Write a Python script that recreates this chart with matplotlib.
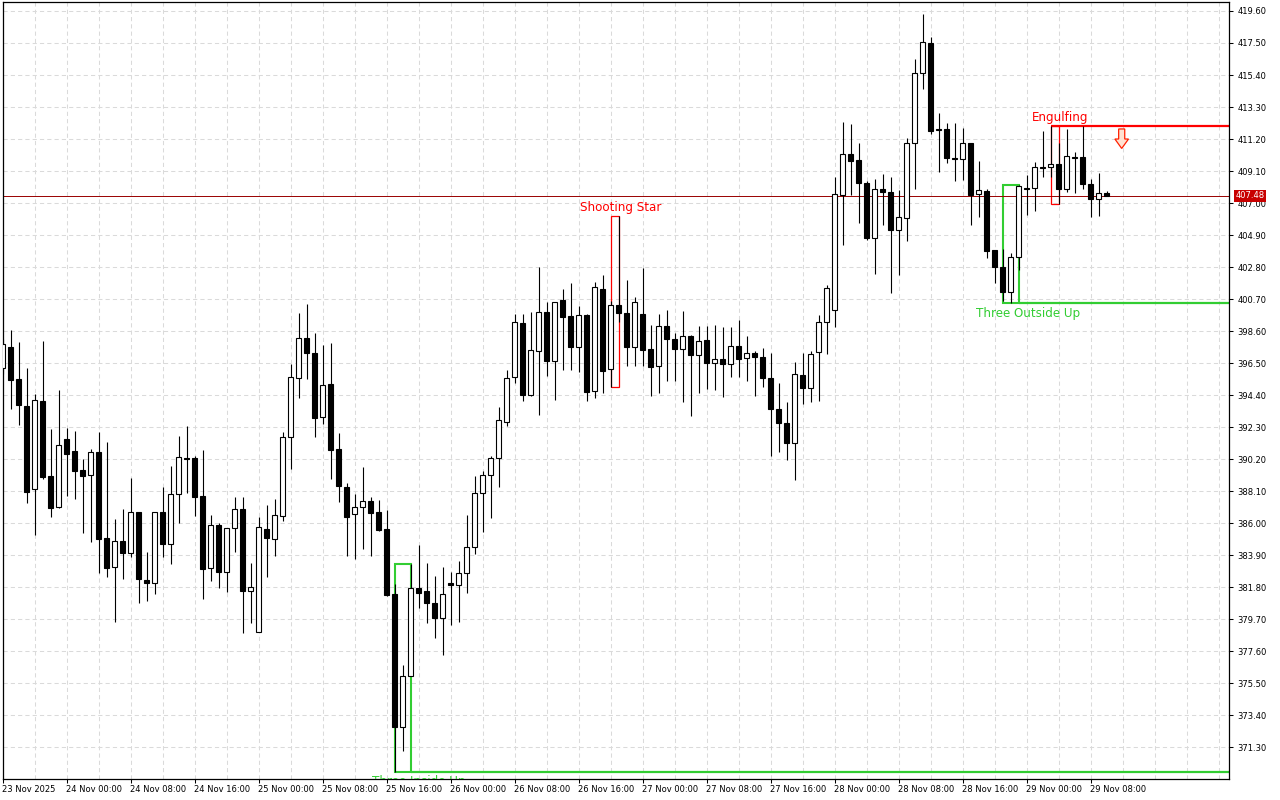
import numpy as np
import pandas as pd
import matplotlib
matplotlib.use('Agg')
import matplotlib.pyplot as plt
from matplotlib.patches import Rectangle, Polygon

# Годинні свічки, 23 Nov 2025 16:00 ... 29 Nov 2025 10:00
start_time = '2025-11-23 16:00'

opens = [396.15, 397.53, 395.43, 393.68, 388.22, 394.01, 389.09, 387.03, 391.52, 390.73,
         389.46, 389.13, 390.64, 385.00, 383.10, 384.80, 384.02, 386.71, 382.24, 382.05,
         386.71, 384.61, 387.89, 390.27, 390.27, 387.78, 383.03, 385.85, 382.81, 385.66,
         386.90, 381.56, 378.83, 385.59, 384.93, 386.48, 391.63, 395.50, 398.12, 397.14,
         392.93, 395.10, 390.84, 388.37, 386.57, 387.03, 387.43, 386.72, 385.61, 381.35,
         372.63, 375.98, 381.75, 381.53, 380.75, 379.80, 382.06, 381.92, 382.74, 384.40,
         388.00, 389.17, 390.30, 392.64, 395.58, 399.11, 394.38, 397.32, 399.84, 396.61,
         400.64, 399.59, 397.57, 399.63, 394.69, 401.34, 396.09, 400.29, 399.76, 397.57,
         399.70, 397.40, 396.28, 398.91, 398.06, 397.40, 398.25, 397.01, 397.99, 396.48,
         396.75, 396.42, 397.60, 396.81, 397.14, 396.88, 395.50, 393.46, 392.55, 391.27,
         395.72, 394.84, 397.20, 399.17, 399.96, 407.51, 410.20, 409.82, 408.31, 404.72,
         407.90, 407.74, 405.23, 406.00, 410.92, 415.51, 417.48, 411.84, 411.84, 409.97,
         409.87, 410.92, 407.57, 407.79, 403.92, 402.78, 401.14, 403.44, 407.97, 407.97,
         409.34, 409.34, 409.56, 407.90, 410.04, 409.99, 408.23, 407.24, 407.64]

highs = [398.10, 398.67, 397.88, 396.16, 394.47, 397.95, 392.19, 394.73, 392.24, 392.04,
         390.18, 390.86, 391.96, 391.32, 386.27, 386.92, 388.96, 386.75, 384.10, 386.71,
         388.37, 389.76, 391.71, 392.37, 390.40, 390.79, 386.51, 385.98, 385.66, 387.69,
         387.69, 383.36, 386.42, 387.19, 387.58, 391.96, 396.44, 399.78, 400.37, 398.49,
         397.68, 397.83, 391.89, 388.61, 387.91, 389.66, 387.69, 387.49, 386.87, 382.01,
         376.71, 383.34, 384.55, 383.40, 382.50, 383.12, 382.79, 383.52, 386.52, 389.10,
         389.44, 390.41, 393.59, 396.02, 399.69, 399.69, 399.86, 402.80, 400.52, 400.52,
         401.34, 401.77, 400.24, 399.70, 401.84, 402.26, 400.60, 406.15, 401.95, 400.81,
         402.72, 399.00, 399.70, 400.00, 398.49, 399.91, 398.34, 398.93, 398.93, 399.00,
         398.88, 398.88, 399.32, 398.27, 397.31, 397.47, 397.14, 395.17, 393.92, 396.59,
         397.14, 397.29, 399.65, 401.62, 408.69, 412.30, 412.17, 410.92, 408.45, 408.56,
         408.90, 408.69, 407.85, 411.25, 416.43, 419.40, 417.90, 412.89, 412.23, 412.23,
         411.90, 410.92, 409.78, 407.92, 403.92, 403.96, 403.70, 408.18, 408.84, 409.71,
         411.73, 412.05, 410.92, 411.84, 410.37, 412.05, 408.56, 408.95, 407.79]

lows = [395.80, 393.46, 392.45, 387.30, 385.24, 388.91, 386.42, 387.00, 387.80, 387.58,
        385.37, 384.78, 382.74, 382.44, 379.53, 382.31, 383.75, 380.77, 380.91, 381.37,
        383.75, 383.29, 386.02, 387.95, 386.48, 381.04, 382.22, 381.72, 381.50, 384.12,
        378.77, 379.42, 378.83, 382.48, 383.86, 386.16, 389.57, 394.23, 395.47, 391.67,
        392.50, 388.91, 387.40, 383.86, 383.62, 384.32, 383.86, 385.46, 381.20, 369.67,
        371.03, 375.96, 380.42, 379.47, 378.43, 377.33, 379.32, 379.54, 381.44, 383.96,
        385.39, 386.34, 388.37, 392.35, 395.18, 394.01, 394.34, 393.06, 395.66, 394.07,
        396.04, 396.04, 395.93, 394.03, 394.19, 394.51, 394.91, 399.21, 396.33, 396.33,
        396.33, 394.36, 394.51, 395.32, 395.32, 393.92, 393.04, 394.55, 394.78, 394.73,
        394.25, 395.60, 395.60, 395.34, 394.36, 394.95, 390.42, 390.68, 390.14, 388.83,
        393.81, 393.96, 394.03, 397.09, 398.88, 404.25, 407.51, 405.71, 404.57, 402.34,
        405.56, 401.12, 402.28, 404.53, 407.92, 414.46, 411.50, 409.06, 409.61, 408.46,
        408.51, 405.56, 406.06, 403.37, 401.73, 400.60, 400.42, 402.61, 406.21, 406.50,
        408.69, 408.69, 406.94, 407.74, 407.64, 407.90, 406.10, 406.15, 407.48]

closes = [397.73, 395.41, 393.77, 388.06, 394.06, 389.04, 387.01, 391.10, 390.55, 389.44,
          389.11, 390.64, 384.97, 383.07, 384.80, 384.02, 386.71, 382.31, 382.09, 386.71,
          384.61, 387.89, 390.33, 390.19, 387.73, 382.97, 385.85, 382.81, 385.66, 386.90,
          381.56, 381.79, 385.72, 385.00, 386.51, 391.63, 395.56, 398.12, 397.14, 392.91,
          395.08, 390.81, 388.45, 386.42, 387.03, 387.43, 386.68, 385.55, 381.31, 372.63,
          375.98, 381.75, 381.44, 380.73, 379.80, 381.35, 381.92, 382.74, 384.40, 388.00,
          389.17, 390.30, 392.77, 395.51, 399.18, 394.38, 397.34, 399.84, 396.61, 400.52,
          399.54, 397.57, 399.63, 394.62, 401.51, 396.00, 400.29, 399.76, 397.57, 400.49,
          397.38, 396.26, 398.91, 398.10, 397.40, 398.25, 397.01, 397.97, 396.48, 396.75,
          396.42, 397.60, 396.79, 397.14, 396.88, 395.50, 393.46, 392.55, 391.27, 395.76,
          394.84, 397.07, 399.17, 401.40, 407.57, 410.20, 409.78, 408.29, 404.72, 407.90,
          407.74, 405.23, 406.06, 410.92, 415.51, 417.55, 411.75, 411.77, 409.97, 409.87,
          410.92, 407.53, 407.85, 403.85, 402.78, 401.14, 403.44, 408.14, 407.92, 409.34,
          409.30, 409.54, 407.94, 410.09, 409.95, 408.23, 407.24, 407.64, 407.48]

last_price = 407.48

# Свічкові патерни: назва, перша і остання свічка, бичачий чи ні, центр підпису
pattern_names = ['Three Inside Up', 'Shooting Star', 'Three Outside Up', 'Engulfing']
pattern_first = [49, 76, 125, 131]
pattern_last = [51, 77, 127, 132]
pattern_bullish = [True, False, True, False]
pattern_label_x = [52.0, 77.3, 128.2, 132.2]
pattern_line = [True, False, True, True]

# Стрілка сигналу на продаж
arrow_x = 139.9
arrow_top = 411.86

price_ticks = np.round(np.arange(371.30, 419.61, 2.1), 2)

opens = np.array(opens)
highs = np.array(highs)
lows = np.array(lows)
closes = np.array(closes)
x = np.arange(len(opens))
times = pd.date_range(start_time, periods=len(opens), freq='h')

BULL_COLOR = '#32CD32'
BEAR_COLOR = '#FF0000'

fig = plt.figure(figsize=(12.8, 8), dpi=100)
ax = fig.add_axes([2.5 / 1280, 21 / 800, 1226.5 / 1280, 777 / 800])

x_right = 1226.5 / 8
ax.set_xlim(0, x_right)
ax.set_ylim(369.21, 420.19)

# Сітка
ax.set_yticks(price_ticks)
ax.set_yticklabels([f'{p:.2f}' for p in price_ticks])
major_pos = [0] + [k for k in range(1, len(times)) if times[k].hour % 8 == 0]
major_lab = [times[0].strftime('%d %b %Y')] + [times[k].strftime('%d %b %H:%M') for k in major_pos[1:]]
ax.set_xticks(major_pos)
ax.set_xticklabels(major_lab, ha='left')
ax.set_xticks(np.arange(0, x_right, 4), minor=True)
ax.grid(True, which='both', color='#DADADA', linestyle=(0, (4, 3)), linewidth=0.75, zorder=0)
ax.set_axisbelow(True)

ax.yaxis.tick_right()
ax.tick_params(axis='y', direction='out', length=3, width=0.75, pad=3, labelsize=6)
ax.tick_params(axis='x', which='major', direction='out', length=3, width=0.75, pad=1, labelsize=6)
ax.tick_params(axis='x', which='minor', length=0)
for s in ax.spines.values():
    s.set_linewidth(0.9)
    s.set_color('black')

# Патерни: рамки, рівні, підписи
for name, i0, i1, bull, lx, has_line in zip(pattern_names, pattern_first, pattern_last,
                                            pattern_bullish, pattern_label_x, pattern_line):
    top = highs[i0:i1 + 1].max()
    bottom = lows[i0:i1 + 1].min()
    col = BULL_COLOR if bull else BEAR_COLOR
    lw = 1.5 if bull else 0.9
    ax.add_patch(Rectangle((i0, bottom), i1 - i0, top - bottom, fill=False,
                           edgecolor=col, linewidth=lw, zorder=1.5))
    level = bottom if bull else top
    if has_line:
        ax.plot([i1 if bull else i0, x_right], [level, level], color=col,
                linewidth=1.6, zorder=1.5, solid_capstyle='butt')
    if bull:
        t = ax.annotate(name, xy=(lx, level), xytext=(0, -2.5), textcoords='offset points',
                        ha='center', va='top', color=col, fontsize=8.6, zorder=4)
    else:
        t = ax.annotate(name, xy=(lx, level), xytext=(0, 1.2), textcoords='offset points',
                        ha='center', va='bottom', color=col, fontsize=8.6, zorder=4)
    # підпис обрізається рамкою графіка
    t.set_clip_box(ax.bbox)
    t.set_clip_on(True)

# Поточна ціна
ax.axhline(last_price, color='#990000', linewidth=0.7, zorder=1.6)
ax.annotate(f'{last_price:.2f}', xy=(1, last_price), xycoords=('axes fraction', 'data'),
            xytext=(4.5, 0), textcoords='offset points', ha='left', va='center',
            color='white', fontsize=6, annotation_clip=False, zorder=5,
            bbox=dict(boxstyle='square,pad=0.2', facecolor='#C80000', edgecolor='none'))

# Свічки
ax.vlines(x, lows, highs, color='black', linewidth=0.8, zorder=2)
bull = closes >= opens
body_low = np.minimum(opens, closes)
body_h = np.maximum(np.abs(closes - opens), 0.06)
ax.bar(x[bull], body_h[bull], bottom=body_low[bull], width=0.6, color='white',
       edgecolor='black', linewidth=0.8, zorder=3)
ax.bar(x[~bull], body_h[~bull], bottom=body_low[~bull], width=0.6, color='black',
       edgecolor='black', linewidth=0.8, zorder=3)

# Стрілка вниз
shaft, head, head_start, tip = 0.38, 0.85, arrow_top - 0.66, arrow_top - 1.28
arrow = Polygon([(arrow_x - shaft, arrow_top), (arrow_x + shaft, arrow_top),
                 (arrow_x + shaft, head_start), (arrow_x + head, head_start),
                 (arrow_x, tip), (arrow_x - head, head_start),
                 (arrow_x - shaft, head_start)], closed=True,
                facecolor='#FFE2D2', edgecolor='#FF2000', linewidth=0.9, zorder=4)
ax.add_patch(arrow)

plt.savefig('out.png', dpi=100)
